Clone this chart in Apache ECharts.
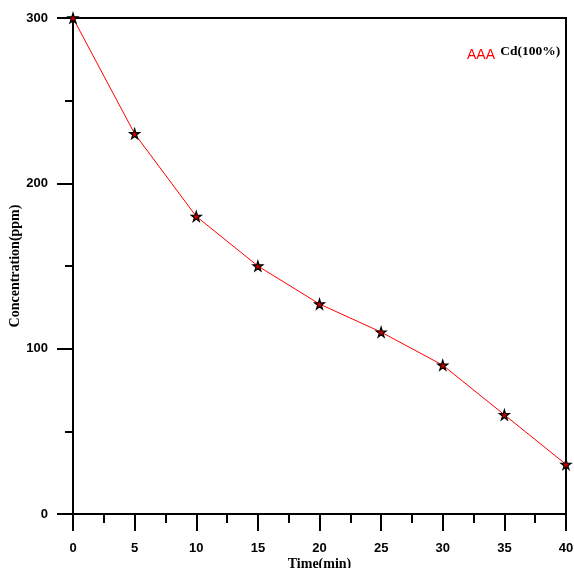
<!DOCTYPE html>
<html>
<head>
<meta charset="utf-8">
<script src="https://cdn.jsdelivr.net/npm/echarts@6/dist/echarts.min.js"></script>
<style>
  html, body { margin: 0; padding: 0; background: #fff; }
  #chart { width: 574px; height: 568px; }
</style>
</head>
<body>
<div id="chart"></div>
<script>
// 数据
var timeMin = [0, 5, 10, 15, 20, 25, 30, 35, 40];
var concentration = [300, 230, 180, 150, 127, 110, 90, 60, 30];
var seriesName = "Cd(100%)";

var chart = echarts.init(document.getElementById("chart"));

var points = timeMin.map(function (t, i) {
  return [t, concentration[i]];
});

var option = {
  animation: false,
  backgroundColor: "#fff",
  grid: {
    left: 73,
    right: 8,
    top: 18,
    bottom: 54,
    outerBoundsMode: "none",
    containLabel: false,
    show: true,
    borderColor: "#000",
    borderWidth: 2,
  },
  legend: {
    left: 457,
    top: 40,
    icon: "none",
    itemWidth: 0,
    itemGap: 0,
    data: [seriesName],
    formatter: function (name) {
      return "{a|AAA} {b|" + name + "}";
    },
    textStyle: {
      rich: {
        a: { color: "#ff0000", fontFamily: "Liberation Sans", fontSize: 14, padding: [7, 2, 0, 0] },
        b: { color: "#000", fontFamily: "Liberation Serif", fontWeight: "bold", fontSize: 13.5 },
      },
    },
  },
  xAxis: {
    type: "value",
    min: 0,
    max: 40,
    interval: 5,
    name: "Time(min)",
    nameLocation: "middle",
    nameGap: 43,
    nameMoveOverlap: false,
    nameTextStyle: {
      fontFamily: "Liberation Serif",
      fontWeight: "bold",
      fontSize: 14,
      color: "#000",
    },
    axisLine: { lineStyle: { color: "#000", width: 2 } },
    axisTick: { inside: false, length: 17, lineStyle: { color: "#000", width: 2 } },
    minorTick: { show: true, splitNumber: 2, length: 9, lineStyle: { color: "#000", width: 2 } },
    axisLabel: {
      margin: 28,
      fontFamily: "Liberation Sans",
      fontWeight: "bold",
      fontSize: 13,
      color: "#000",
    },
    splitLine: { show: false },
  },
  yAxis: {
    type: "value",
    min: 0,
    max: 300,
    interval: 100,
    name: "Concentration(ppm)",
    nameLocation: "middle",
    nameGap: 51,
    nameMoveOverlap: false,
    nameTextStyle: {
      fontFamily: "Liberation Serif",
      fontWeight: "bold",
      fontSize: 14,
      color: "#000",
    },
    axisLine: { lineStyle: { color: "#000", width: 2 } },
    axisTick: { inside: false, length: 16, lineStyle: { color: "#000", width: 2 } },
    minorTick: { show: true, splitNumber: 2, length: 8, lineStyle: { color: "#000", width: 2 } },
    axisLabel: {
      margin: 25,
      fontFamily: "Liberation Sans",
      fontWeight: "bold",
      fontSize: 13,
      color: "#000",
    },
    splitLine: { show: false },
  },
  series: [
    {
      name: seriesName,
      type: "line",
      data: points,
      symbol: "path://M50,0 L61,35 L98,35 L68,57 L79,91 L50,70 L21,91 L32,57 L2,35 L39,35 Z",
      symbolSize: 10,
      lineStyle: { color: "#ff0000", width: 1 },
      itemStyle: { color: "#cc0000", borderColor: "#000", borderWidth: 1.2 },
      z: 5,
    },
  ],
};

chart.setOption(option);
</script>
</body>
</html>
